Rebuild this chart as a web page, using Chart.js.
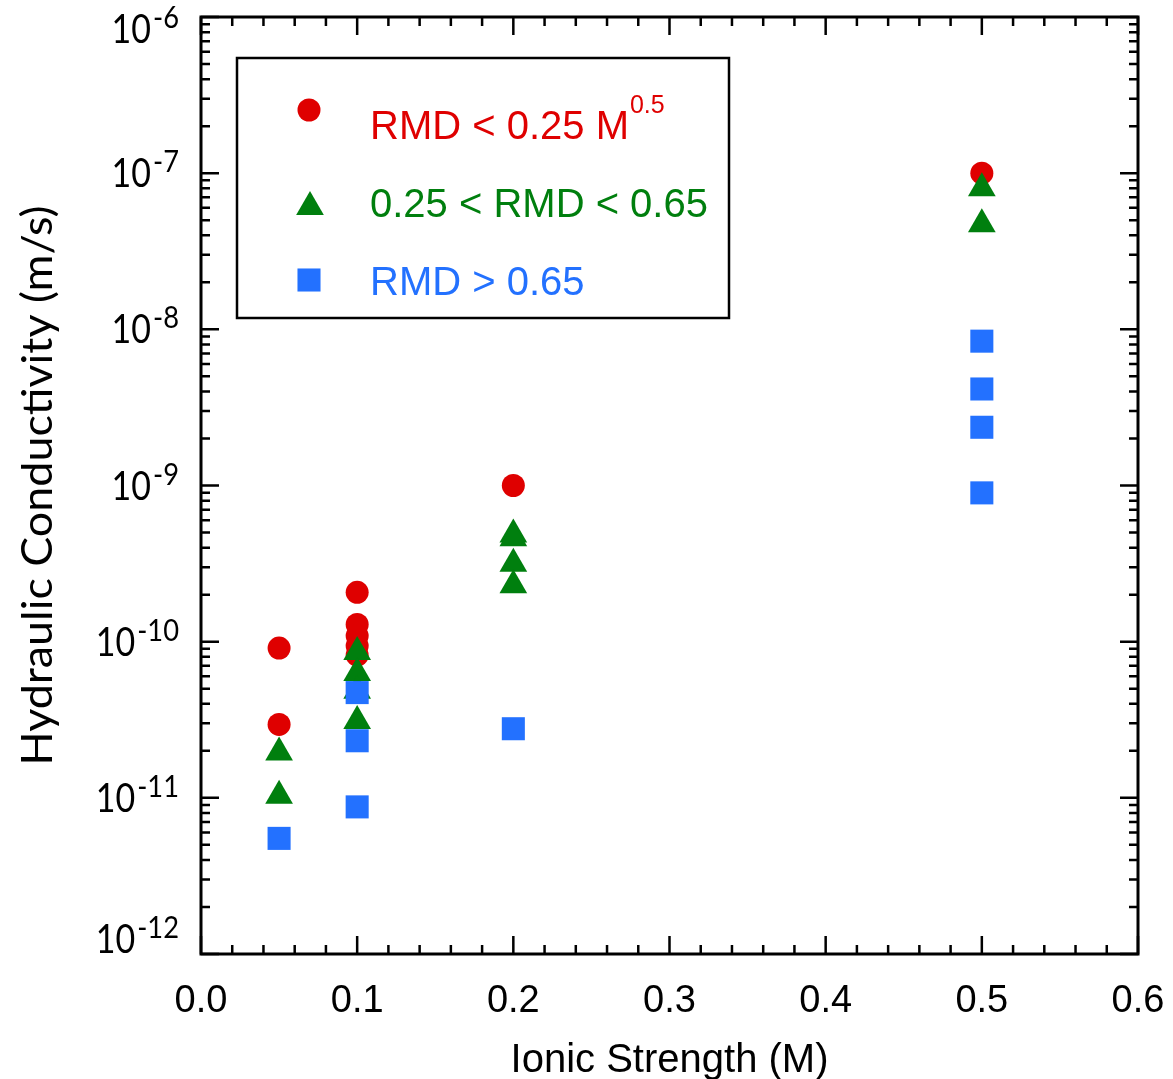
<!DOCTYPE html>
<html>
<head>
<meta charset="utf-8">
<script src="https://cdn.jsdelivr.net/npm/chart.js@4/dist/chart.umd.min.js"></script>
<style>
  html, body { margin: 0; padding: 0; background: #fff; }
</style>
</head>
<body>
<canvas id="chart" width="1173" height="1079"></canvas>
<script>
// data (ionic strength M, hydraulic conductivity m/s)
const redX = [0.05, 0.05, 0.1, 0.1, 0.1, 0.1, 0.1, 0.2, 0.5];
const redY = [9.1e-11, 2.95e-11, 2.07e-10, 1.29e-10, 1.09e-10, 9.4e-11, 8.2e-11, 1.0e-9, 1.0e-7];

const greenX = [0.05, 0.05, 0.1, 0.1, 0.1, 0.1, 0.2, 0.2, 0.2, 0.2, 0.5, 0.5];
const greenY = [1.95e-11, 1.03e-11, 8.6e-11, 6.3e-11, 4.85e-11, 3.1e-11, 4.85e-10, 4.6e-10, 3.15e-10, 2.3e-10, 8.0e-8, 4.7e-8];

const blueX = [0.05, 0.1, 0.1, 0.1, 0.2, 0.5, 0.5, 0.5, 0.5];
const blueY = [5.5e-12, 4.72e-11, 2.32e-11, 8.75e-12, 2.77e-11, 8.4e-9, 4.15e-9, 2.36e-9, 8.97e-10];

const xTickLabels = ["0.0", "0.1", "0.2", "0.3", "0.4", "0.5", "0.6"];
const yTickExps = [-6, -7, -8, -9, -10, -11, -12];

const RED = "#DF0000", GREEN = "#007F0E", BLUE = "#2371FF";

const toPoints = (xs, ys) => xs.map((x, i) => ({ x: x, y: ys[i] }));

// text helper with horizontal squeeze
function txt(ctx, s, x, y, font, color, align, sx) {
  ctx.save();
  ctx.font = font;
  ctx.fillStyle = color;
  ctx.textBaseline = "alphabetic";
  const w = ctx.measureText(s).width * sx;
  let x0 = x;
  if (align === "center") x0 = x - w / 2;
  else if (align === "right") x0 = x - w;
  ctx.translate(x0, y);
  ctx.scale(sx, 1);
  ctx.textAlign = "left";
  ctx.fillText(s, 0, 0);
  ctx.restore();
  return w;
}

const decorations = {
  id: "decorations",
  afterDraw(chart) {
    const ctx = chart.ctx;
    const a = chart.chartArea;
    const xs = chart.scales.x, ys = chart.scales.y;

    ctx.save();
    ctx.strokeStyle = "#000";
    ctx.lineWidth = 2.5;
    ctx.lineCap = "butt";

    // x ticks, inward on bottom and top
    for (let i = 0; i <= 30; i++) {
      const px = xs.getPixelForValue(i * 0.02);
      const len = i % 5 === 0 ? 18 : 9;
      ctx.beginPath();
      ctx.moveTo(px, a.bottom); ctx.lineTo(px, a.bottom - len);
      ctx.moveTo(px, a.top); ctx.lineTo(px, a.top + len);
      ctx.stroke();
    }
    // y ticks, log decades, inward on left and right
    for (let e = -12; e <= -6; e++) {
      for (let m = 1; m <= 9; m++) {
        if (e === -6 && m > 1) break;
        const py = ys.getPixelForValue(m * Math.pow(10, e));
        const len = m === 1 ? 18 : 9;
        ctx.beginPath();
        ctx.moveTo(a.left, py); ctx.lineTo(a.left + len, py);
        ctx.moveTo(a.right, py); ctx.lineTo(a.right - len, py);
        ctx.stroke();
      }
    }
    // frame
    ctx.lineWidth = 3;
    ctx.strokeRect(a.left, a.top, a.right - a.left, a.bottom - a.top);
    ctx.restore();

    // x tick labels
    xTickLabels.forEach(l => {
      const px = xs.getPixelForValue(parseFloat(l));
      txt(ctx, l, px, 1012, "38px 'Liberation Sans'", "#000", "center", 1);
    });
    // x title
    txt(ctx, "Ionic Strength (M)", (a.left + a.right) / 2, 1072, "40px 'Liberation Sans'", "#000", "center", 1);

    // y tick labels: 10 with superscript exponent
    yTickExps.forEach(e => {
      const py = ys.getPixelForValue(Math.pow(10, e));
      let base = py + 14;
      base = Math.max(43, Math.min(953, base));
      ctx.save();
      ctx.font = "31px Lato";
      const supW = ctx.measureText("-" + Math.abs(e)).width * 0.88;
      ctx.restore();
      const right = 179;
      txt(ctx, "-" + Math.abs(e), right, base - 15, "31px Lato", "#000", "right", 0.88);
      txt(ctx, "10", right - supW - 2, base, "40px Lato", "#000", "right", 0.85);
    });

    // y title, rotated
    ctx.save();
    ctx.translate(52, (a.top + a.bottom) / 2);
    ctx.rotate(-Math.PI / 2);
    ctx.font = "42px Lato";
    const tw = ctx.measureText("Hydraulic Conductivity (m/s)").width;
    const sx = 560 / tw;
    txt(ctx, "Hydraulic Conductivity (m/s)", 0, 0, "42px Lato", "#000", "center", sx);
    ctx.restore();

    // legend box
    ctx.save();
    ctx.fillStyle = "#fff";
    ctx.fillRect(237, 58, 492, 260);
    ctx.strokeStyle = "#000";
    ctx.lineWidth = 2.5;
    ctx.strokeRect(237, 58, 492, 260);
    ctx.restore();

    const H = Chart.helpers;
    ctx.save();
    ctx.fillStyle = RED;
    H.drawPoint(ctx, { pointStyle: "circle", radius: 11.5, borderWidth: 0 }, 309, 110);
    ctx.fillStyle = GREEN;
    H.drawPoint(ctx, { pointStyle: "triangle", radius: 16, borderWidth: 0 }, 310, 207);
    ctx.fillStyle = BLUE;
    H.drawPoint(ctx, { pointStyle: "rect", radius: 16.3, borderWidth: 0 }, 309, 280);
    ctx.restore();

    const lf = "40px 'Liberation Sans'";
    const w1 = txt(ctx, "RMD < 0.25 M", 370, 139, lf, RED, "left", 1);
    txt(ctx, "0.5", 370 + w1 + 1, 113, "25px 'Liberation Sans'", RED, "left", 1);
    txt(ctx, "0.25 < RMD < 0.65", 370, 217, lf, GREEN, "left", 1);
    txt(ctx, "RMD > 0.65", 370, 295, lf, BLUE, "left", 1);
  }
};

new Chart(document.getElementById("chart"), {
  type: "scatter",
  data: {
    datasets: [
      {
        label: "RMD < 0.25 M0.5",
        data: toPoints(redX, redY),
        pointStyle: "circle",
        pointRadius: 11.5,
        backgroundColor: RED,
        borderWidth: 0,
        order: 3
      },
      {
        label: "0.25 < RMD < 0.65",
        data: toPoints(greenX, greenY),
        pointStyle: "triangle",
        pointRadius: 16,
        backgroundColor: GREEN,
        borderWidth: 0,
        order: 2
      },
      {
        label: "RMD > 0.65",
        data: toPoints(blueX, blueY),
        pointStyle: "rect",
        pointRadius: 16.3,
        backgroundColor: BLUE,
        borderWidth: 0,
        order: 1
      }
    ]
  },
  options: {
    responsive: false,
    animation: false,
    layout: { padding: { left: 201, right: 35, top: 17, bottom: 125 } },
    plugins: { legend: { display: false }, tooltip: { enabled: false } },
    elements: { point: { hoverRadius: 11.5 } },
    scales: {
      x: { type: "linear", min: 0, max: 0.6, display: false },
      y: { type: "logarithmic", min: 1e-12, max: 1e-6, display: false }
    }
  },
  plugins: [decorations]
});
</script>
</body>
</html>
